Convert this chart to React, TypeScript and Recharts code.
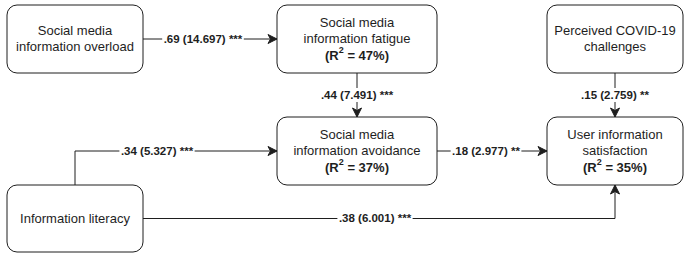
import React from 'react';
import { ScatterChart, Scatter, XAxis, YAxis } from 'recharts';

// ---------- data ----------
const nodeIds = ['overload', 'fatigue', 'covid', 'avoidance', 'satisfaction', 'literacy'];
const nodeLines = [
  ['Social media', 'information overload'],
  ['Social media', 'information fatigue'],
  ['Perceived COVID-19', 'challenges'],
  ['Social media', 'information avoidance'],
  ['User information', 'satisfaction'],
  ['Information literacy'],
];
const nodeR2 = ['', '47%', '', '37%', '35%', ''];

const pathFrom = ['overload', 'fatigue', 'covid', 'avoidance', 'literacy', 'literacy'];
const pathTo = ['fatigue', 'avoidance', 'satisfaction', 'satisfaction', 'avoidance', 'satisfaction'];
const pathBeta = ['.69', '.44', '.15', '.18', '.34', '.38'];
const pathT = ['14.697', '7.491', '2.759', '2.977', '5.327', '6.001'];
const pathSig = ['***', '***', '**', '**', '***', '***'];

// ---------- layout (diagram units) ----------
const W = 688;
const H = 254;
const NODE_POS: Record<string, { x: number; y: number; w: number; h: number }> = {
  overload: { x: 75, y: 39, w: 136, h: 68 },
  fatigue: { x: 357, y: 39, w: 160, h: 68 },
  covid: { x: 615, y: 39, w: 136, h: 68 },
  avoidance: { x: 357, y: 151, w: 160, h: 68 },
  satisfaction: { x: 615, y: 151, w: 136, h: 68 },
  literacy: { x: 75, y: 218.5, w: 136, h: 67 },
};
// route type and label anchor for each path
const PATH_ROUTE = ['h', 'v', 'v', 'h', 'upRight', 'rightUp'];
const PATH_LABEL = [
  { x: 203, y: 39 },
  { x: 357, y: 95 },
  { x: 615, y: 95 },
  { x: 486, y: 151 },
  { x: 157, y: 151 },
  { x: 375, y: 218 },
];

const FONT = '"Liberation Sans", Arial, Helvetica, sans-serif';
const INK = '#1e1e1e';
const LABEL_SIZE = 11.5;

const charW: Record<string, number> = { '.': 0.278, ' ': 0.278, '(': 0.333, ')': 0.333, '*': 0.389 };
const textWidth = (s: string, size: number) =>
  s.split('').reduce((a, c) => a + (charW[c] ?? 0.556), 0) * size;

type Pt = { x: number; y: number };

const routeFor = (i: number): { pts: Pt[]; dir: number } => {
  const a = NODE_POS[pathFrom[i]];
  const b = NODE_POS[pathTo[i]];
  const r = PATH_ROUTE[i];
  if (r === 'h') return { pts: [{ x: a.x + a.w / 2, y: a.y }, { x: b.x - b.w / 2, y: a.y }], dir: 0 };
  if (r === 'v') return { pts: [{ x: a.x, y: a.y + a.h / 2 }, { x: a.x, y: b.y - b.h / 2 }], dir: 90 };
  if (r === 'upRight')
    return {
      pts: [{ x: a.x, y: a.y - a.h / 2 }, { x: a.x, y: b.y }, { x: b.x - b.w / 2, y: b.y }],
      dir: 0,
    };
  return {
    pts: [{ x: a.x + a.w / 2, y: a.y }, { x: b.x, y: a.y }, { x: b.x, y: b.y + b.h / 2 }],
    dir: -90,
  };
};

const routes = pathFrom.map((_, i) => routeFor(i));

const nodeData = nodeIds.map((id, i) => ({
  x: NODE_POS[id].x,
  y: NODE_POS[id].y,
  id,
  lines: nodeLines[i],
  r2: nodeR2[i],
}));

const arrowData = routes.map((r) => ({ ...r.pts[r.pts.length - 1], dir: r.dir }));

const labelData = pathFrom.map((_, i) => ({
  x: PATH_LABEL[i].x,
  y: PATH_LABEL[i].y,
  text: `${pathBeta[i]} (${pathT[i]}) ${pathSig[i]}`,
}));

const Empty = () => <g />;

const NodeShape = (props: any) => {
  const { cx, cy, payload } = props;
  const pos = NODE_POS[payload.id];
  const lines: string[] = payload.lines;
  const total = lines.length + (payload.r2 ? 1 : 0);
  const gap = 15.6;
  const y0 = cy - ((total - 1) * gap) / 2 - 0.5;
  return (
    <g>
      <rect
        x={cx - pos.w / 2}
        y={cy - pos.h / 2}
        width={pos.w}
        height={pos.h}
        rx={10}
        ry={10}
        fill="#fff"
        stroke={INK}
        strokeWidth={1}
      />
      {lines.map((l, k) => (
        <text
          key={k}
          x={cx}
          y={y0 + k * gap}
          textAnchor="middle"
          dominantBaseline="central"
          fontFamily={FONT}
          fontSize={13}
          fill={INK}
        >
          {l}
        </text>
      ))}
      {payload.r2 ? (
        <text
          x={cx}
          y={y0 + lines.length * gap + 1}
          textAnchor="middle"
          dominantBaseline="central"
          fontFamily={FONT}
          fontSize={13}
          fontWeight="bold"
          fill={INK}
        >
          (R
          <tspan dy={-5} fontSize={9}>
            2
          </tspan>
          <tspan dy={5}> = {payload.r2})</tspan>
        </text>
      ) : null}
    </g>
  );
};

const ArrowShape = (props: any) => {
  const { cx, cy, payload } = props;
  return (
    <path
      d="M0,0 L-9,-4.5 L-6.5,0 L-9,4.5 Z"
      transform={`translate(${cx},${cy}) rotate(${payload.dir})`}
      fill={INK}
      stroke={INK}
      strokeWidth={1}
      strokeLinejoin="miter"
    />
  );
};

const LabelShape = (props: any) => {
  const { cx, cy, payload } = props;
  const w = textWidth(payload.text, LABEL_SIZE) + 3;
  return (
    <g>
      <rect x={cx - w / 2} y={cy - 7} width={w} height={14} fill="#fff" />
      <text
        x={cx}
        y={cy}
        textAnchor="middle"
        dominantBaseline="central"
        fontFamily={FONT}
        fontSize={LABEL_SIZE}
        fontWeight="bold"
        fill={INK}
      >
        {payload.text}
      </text>
    </g>
  );
};

export default function App() {
  return (
    <div style={{ position: 'absolute', left: 0, top: 0, width: W, height: H, background: '#fff' }}>
      <ScatterChart width={W} height={H} margin={{ top: 0, right: 0, bottom: 0, left: 0 }}>
        <XAxis type="number" dataKey="x" domain={[0, W]} hide allowDataOverflow />
        <YAxis type="number" dataKey="y" domain={[0, H]} reversed hide allowDataOverflow />
        {routes.map((r, i) => (
          <Scatter
            key={`edge-${i}`}
            data={r.pts}
            line={{ stroke: INK, strokeWidth: 1 }}
            shape={Empty}
            isAnimationActive={false}
          />
        ))}
        <Scatter data={arrowData} shape={ArrowShape} isAnimationActive={false} />
        <Scatter data={labelData} shape={LabelShape} isAnimationActive={false} />
        <Scatter data={nodeData} shape={NodeShape} isAnimationActive={false} />
      </ScatterChart>
    </div>
  );
}
